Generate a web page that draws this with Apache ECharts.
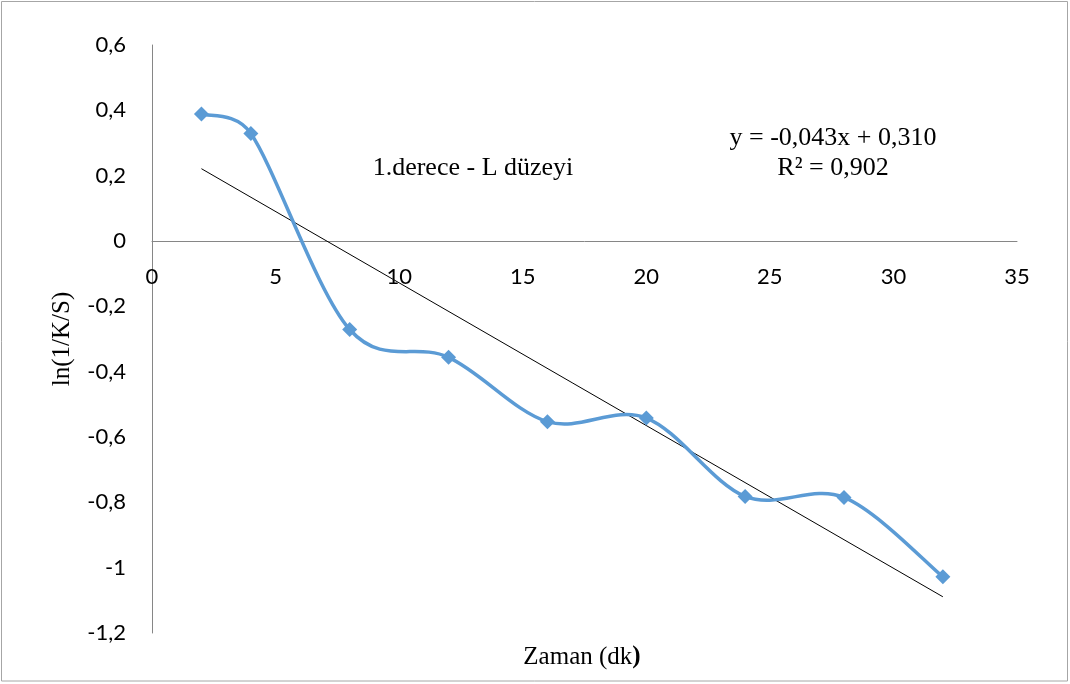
<!DOCTYPE html>
<html>
<head>
<meta charset="utf-8">
<script src="https://cdn.jsdelivr.net/npm/echarts@6/dist/echarts.min.js"></script>
<style>
  html, body { margin: 0; padding: 0; background: #ffffff; }
  #chart { width: 1070px; height: 684px; }
</style>
</head>
<body>
<div id="chart"></div>
<script>
// Time (dk) and measured ln(1/K/S)
const timeValues = [2, 4, 8, 12, 16, 20, 24, 28, 32];
const lnValues = [0.389, 0.329, -0.271, -0.356, -0.553, -0.542, -0.782, -0.785, -1.028];

// Axis ranges and tick steps
const xRange = [0, 35];
const xStep = 5;
const yRange = [-1.2, 0.6];
const yStep = 0.2;

// Text shown on the chart
const equationText = 'y = -0,043x + 0,310';
const r2Text = 'R² = 0,902';
const seriesNote = '1.derece - L düzeyi';
const xTitle = 'Zaman (dk';
const yTitle = 'ln(1/K/S)';

// Least-squares linear trend through the measured points
function linearFit(xs, ys) {
  const n = xs.length;
  const mx = xs.reduce((a, b) => a + b, 0) / n;
  const my = ys.reduce((a, b) => a + b, 0) / n;
  let sxy = 0, sxx = 0;
  for (let i = 0; i < n; i++) {
    sxy += (xs[i] - mx) * (ys[i] - my);
    sxx += (xs[i] - mx) * (xs[i] - mx);
  }
  const slope = sxy / sxx;
  return { slope, intercept: my - slope * mx };
}
const fit = linearFit(timeValues, lnValues);
const xFirst = timeValues[0];
const xLast = timeValues[timeValues.length - 1];
const trendPoints = [
  [xFirst, fit.intercept + fit.slope * xFirst],
  [xLast, fit.intercept + fit.slope * xLast]
];

const measured = timeValues.map((t, i) => [t, lnValues[i]]);

// Layout
const grid = { left: 152, right: 53, top: 45, bottom: 51 };
const chartHeight = 684;
const gridHeight = chartHeight - grid.top - grid.bottom;
// the x axis sits on the y = 0 line, so shift it up from the grid's bottom edge
const zeroFromBottom = (0 - yRange[0]) / (yRange[1] - yRange[0]) * gridHeight;

const tickFont = 'Lato';
const serif = '"Liberation Serif", "Times New Roman", serif';
const axisGrey = '#868686';
const blue = '#5B9BD5';

// Smoothed curve: one cubic segment per pair of neighbouring points.
// Tangent direction comes from the two neighbours; the control arm is
// a sixth of that span, but never longer than half the segment itself.
function controlArm(from, a, b, segLen, sign) {
  const dx = b[0] - a[0], dy = b[1] - a[1];
  const span = Math.hypot(dx, dy);
  if (span === 0) return from.slice();
  const len = Math.min(span / 6, segLen / 2);
  return [from[0] + sign * dx / span * len, from[1] + sign * dy / span * len];
}

function renderSmoothSegment(params, api) {
  const i = params.dataIndex;
  const n = measured.length;
  if (i >= n - 1) return null;
  const p = j => api.coord(measured[Math.max(0, Math.min(n - 1, j))]);
  const p0 = p(i - 1), p1 = p(i), p2 = p(i + 1), p3 = p(i + 2);
  const segLen = Math.hypot(p2[0] - p1[0], p2[1] - p1[1]);
  const c1 = controlArm(p1, p0, p2, segLen, 1);
  const c2 = controlArm(p2, p1, p3, segLen, -1);
  return {
    type: 'bezierCurve',
    shape: {
      x1: p1[0], y1: p1[1],
      x2: p2[0], y2: p2[1],
      cpx1: c1[0], cpy1: c1[1],
      cpx2: c2[0], cpy2: c2[1]
    },
    style: { fill: null, stroke: blue, lineWidth: 3.5, lineCap: 'round' }
  };
}

const chart = echarts.init(document.getElementById('chart'), null, { renderer: 'canvas' });
chart.setOption({
  animation: false,
  backgroundColor: '#ffffff',
  grid: Object.assign({ containLabel: false }, grid),
  xAxis: {
    type: 'value',
    min: xRange[0],
    max: xRange[1],
    interval: xStep,
    offset: -zeroFromBottom,
    axisLine: { show: true, onZero: false, lineStyle: { color: axisGrey, width: 1 } },
    axisTick: { show: false },
    splitLine: { show: false },
    axisLabel: {
      margin: 25,
      color: '#000',
      fontFamily: tickFont,
      fontSize: 22,
      formatter: v => String(v)
    }
  },
  yAxis: {
    type: 'value',
    min: yRange[0],
    max: yRange[1],
    interval: yStep,
    name: yTitle,
    nameLocation: 'middle',
    nameGap: 77,
    nameRotate: 90,
    nameTextStyle: { fontFamily: serif, fontSize: 25, color: '#000' },
    axisLine: { show: true, onZero: false, lineStyle: { color: axisGrey, width: 1 } },
    axisTick: { show: false },
    splitLine: { show: false },
    axisLabel: {
      margin: 26,
      color: '#000',
      fontFamily: tickFont,
      fontSize: 22,
      formatter: v => String(Number(v.toFixed(1))).replace('.', ',')
    }
  },
  series: [
    {
      name: 'trend',
      type: 'line',
      data: trendPoints,
      showSymbol: false,
      symbol: 'none',
      lineStyle: { color: '#000000', width: 1 },
      z: 2
    },
    {
      name: seriesNote,
      type: 'custom',
      data: measured,
      renderItem: renderSmoothSegment,
      z: 3
    },
    {
      name: seriesNote + ' ',
      type: 'scatter',
      data: measured,
      symbol: 'diamond',
      symbolSize: 15,
      itemStyle: { color: blue, opacity: 1 },
      z: 4
    }
  ],
  graphic: [
    {
      type: 'rect',
      shape: { x: 1.5, y: 1.5, width: 1066, height: 679.5 },
      style: { fill: null, stroke: '#a6a6a6', lineWidth: 1 },
      silent: true
    },
    {
      type: 'text',
      x: 473, y: 168,
      style: { text: seriesNote, font: '26px ' + serif, fill: '#000', align: 'center', verticalAlign: 'middle' }
    },
    {
      type: 'text',
      x: 833, y: 138,
      style: { text: equationText, font: '26px ' + serif, fill: '#000', align: 'center', verticalAlign: 'middle' }
    },
    {
      type: 'text',
      x: 833, y: 168,
      style: { text: r2Text, font: '26px ' + serif, fill: '#000', align: 'center', verticalAlign: 'middle' }
    },
    {
      type: 'text',
      x: 582, y: 657,
      style: {
        text: '{n|' + xTitle + '}{b|)}',
        align: 'center',
        verticalAlign: 'middle',
        rich: {
          n: { fontFamily: serif, fontSize: 25, color: '#000' },
          b: { fontFamily: serif, fontSize: 25, fontWeight: 'bold', color: '#000' }
        }
      }
    }
  ]
});
</script>
</body>
</html>
